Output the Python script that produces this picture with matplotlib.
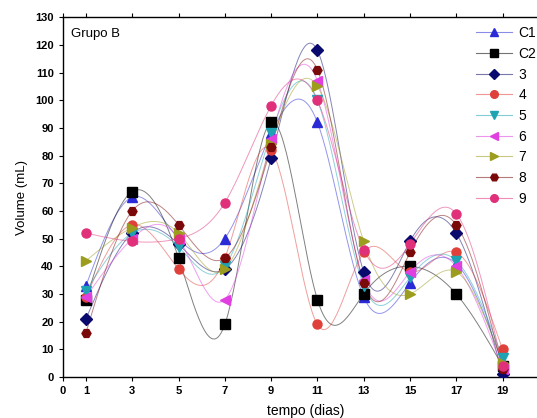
import numpy as np
import matplotlib
matplotlib.use("Agg")
import matplotlib.pyplot as plt
from matplotlib.colors import to_rgba

plt.rcParams['font.family'] = ['Liberation Sans', 'DejaVu Sans']

dias = [1, 3, 5, 7, 9, 11, 13, 15, 17, 19]
nomes = ["C1", "C2", "3", "4", "5", "6", "7", "8", "9"]

v_c1 = [33, 65, 50, 50, 88, 92, 29, 34, 41, 5]
v_c2 = [28, 67, 43, 19, 92, 28, 30, 40, 30, 4]
v_3 = [21, 52, 48, 39, 79, 118, 38, 49, 52, 1]
v_4 = [29, 55, 39, 43, 82, 19, 45, 38, 45, 10]
v_5 = [31, 52, 47, 40, 88, 100, 33, 36, 42, 7]
v_6 = [29, 50, 50, 28, 86, 107, 35, 38, 40, 3]
v_7 = [42, 54, 52, 39, 84, 105, 49, 30, 38, 5]
v_8 = [16, 60, 55, 43, 83, 111, 34, 45, 55, 3]
v_9 = [52, 49, 50, 63, 98, 100, 46, 48, 59, 4]
series = [v_c1, v_c2, v_3, v_4, v_5, v_6, v_7, v_8, v_9]

cores = ["#2a2ad6", "#000000", "#0a0a6e", "#e0403a", "#1fa3b3",
         "#e040e0", "#9c9c1e", "#7a0a0a", "#e0307a"]
marcadores = ["^", "s", "D", "o", "v", "<", ">", "H", "o"]


def spline(x, y, n=300):
    # natural cubic spline, like Origin's "spline" connect
    x = np.asarray(x, float)
    y = np.asarray(y, float)
    k = len(x)
    h = np.diff(x)
    A = np.zeros((k, k))
    b = np.zeros(k)
    A[0, 0] = A[-1, -1] = 1
    for i in range(1, k - 1):
        A[i, i - 1] = h[i - 1]
        A[i, i] = 2 * (h[i - 1] + h[i])
        A[i, i + 1] = h[i]
        b[i] = 6 * ((y[i + 1] - y[i]) / h[i] - (y[i] - y[i - 1]) / h[i - 1])
    M = np.linalg.solve(A, b)
    xs = np.linspace(x[0], x[-1], n)
    j = np.clip(np.searchsorted(x, xs) - 1, 0, k - 2)
    t0 = x[j + 1] - xs
    t1 = xs - x[j]
    hj = h[j]
    ys = (M[j] * t0 ** 3 + M[j + 1] * t1 ** 3) / (6 * hj) \
        + (y[j] / hj - M[j] * hj / 6) * t0 + (y[j + 1] / hj - M[j + 1] * hj / 6) * t1
    return xs, ys


fig = plt.figure(figsize=(5.37, 4.18), dpi=100)
ax = fig.add_axes([0.117, 0.098, 0.905, 0.861])

for nome, vals, cor, mk in zip(nomes, series, cores, marcadores):
    xs, ys = spline(dias, vals)
    ax.plot(xs, ys, color=cor, lw=0.7, alpha=0.5, zorder=2)
    ax.plot(dias, vals, linestyle="none", marker=mk, color=cor, ms=6.5, zorder=3)
    ax.plot([], [], color=to_rgba(cor, 0.55), lw=0.8, marker=mk, ms=5.5,
            markerfacecolor=cor, markeredgecolor=cor, label=nome)

ax.set_xlim(0, 21)
ax.set_ylim(0, 130)
ax.set_xticks([0] + dias)
ax.set_yticks(range(0, 131, 10))
ax.tick_params(axis="both", labelsize=8, direction="out", length=3, width=0.8)
ax.tick_params(axis="x", top=True)
for lab in ax.get_xticklabels() + ax.get_yticklabels():
    lab.set_fontweight("bold")
for s in ax.spines.values():
    s.set_linewidth(1.0)

ax.set_xlabel("tempo (dias)", fontsize=10, labelpad=6)
ax.set_ylabel("Volume (mL)", fontsize=9.5, labelpad=5)
ax.text(0.016, 0.97, "Grupo B", transform=ax.transAxes, fontsize=9.5, va="top")

ax.legend(loc="upper left", bbox_to_anchor=(0.838, 0.99), frameon=False,
          fontsize=10, handlelength=2.6, labelspacing=0.48, handletextpad=0.5,
          borderaxespad=0)

fig.savefig("out.png", dpi=100)
